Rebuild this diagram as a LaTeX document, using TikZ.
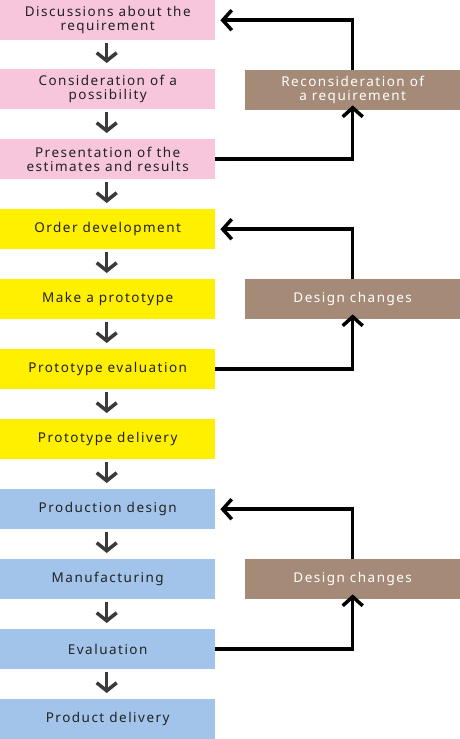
\documentclass[tikz,border=0pt]{standalone}
\usepackage{fontspec}
\setmainfont{Noto Sans}[LetterSpace=11]
\usetikzlibrary{arrows.meta}
\definecolor{pinkc}{RGB}{247,198,220}
\definecolor{yellowc}{RGB}{255,240,0}
\definecolor{bluec}{RGB}{163,196,234}
\definecolor{brownc}{RGB}{165,138,120}
\definecolor{textc}{RGB}{34,34,34}
\definecolor{downc}{RGB}{58,58,58}
\begin{document}
\begin{tikzpicture}[x=1pt,y=-1pt,
  box/.style={anchor=north west, minimum width=215pt, minimum height=40pt,
    inner sep=0pt, align=center, text=textc,
    font=\fontsize{13.5}{13.5}\selectfont},
  pinkbox/.style={box, fill=pinkc},
  yellowbox/.style={box, fill=yellowc},
  bluebox/.style={box, fill=bluec},
  sidebox/.style={box, fill=brownc, text=white},
  downarrow/.style={draw=downc, line width=3.5pt,
    -{Straight Barb[length=8pt,width=20pt,sharp]}},
  feedback/.style={draw=black, line width=3.5pt,
    -{Straight Barb[length=9pt,width=20pt,sharp]}}
]
\useasboundingbox (0,0) rectangle (460,739);
\fill[white] (0,0) rectangle (460,739);

\node[pinkbox, minimum height=40pt] (b0) at (0,0) {Discussions about the\\requirement};
\node[pinkbox] (b1) at (0,69) {Consideration of a\\possibility};
\node[pinkbox] (b2) at (0,139) {Presentation of the\\estimates and results};
\node[yellowbox] (b3) at (0,209) {Order development};
\node[yellowbox] (b4) at (0,279) {Make a prototype};
\node[yellowbox] (b5) at (0,349) {Prototype evaluation};
\node[yellowbox] (b6) at (0,419) {Prototype delivery};
\node[bluebox] (b7) at (0,489) {Production design};
\node[bluebox] (b8) at (0,559) {Manufacturing};
\node[bluebox] (b9) at (0,629) {Evaluation};
\node[bluebox] (b10) at (0,699) {Product delivery};

\node[sidebox] (r1) at (245,70) {Reconsideration of\\a requirement};
\node[sidebox] (r2) at (245,279) {Design changes};
\node[sidebox] (r3) at (245,559) {Design changes};

\foreach \a/\b in {b0/b1,b1/b2,b2/b3,b3/b4,b4/b5,b5/b6,b6/b7,b7/b8,b8/b9,b9/b10}
  \draw[downarrow] ([xshift=-1pt,yshift=-3pt]\a.south) -- ([xshift=-1pt,yshift=6pt]\b.north);

\foreach \top/\side/\bot in {b0/r1/b2, b3/r2/b5, b7/r3/b9}{
  \draw[feedback] (\side.north) |- ([xshift=5pt]\top.east);
  \draw[feedback] (\bot.east) -| ([yshift=5pt]\side.south);
}
\end{tikzpicture}
\end{document}
